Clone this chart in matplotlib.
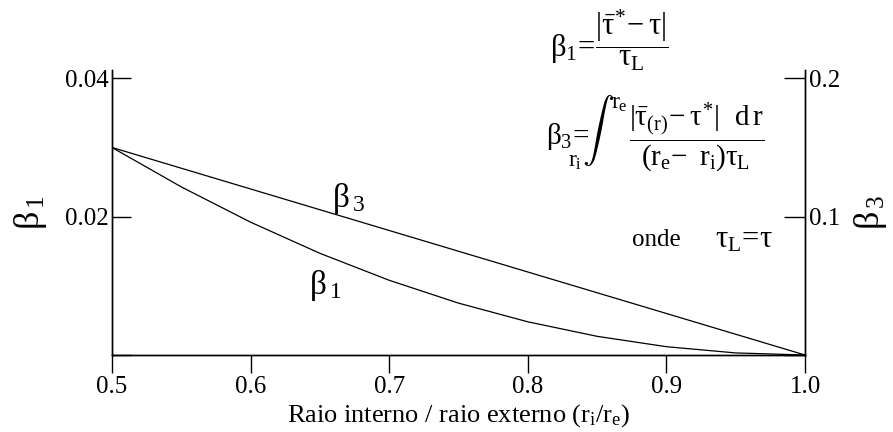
import matplotlib
matplotlib.use("Agg")
import matplotlib.pyplot as plt

plt.rcParams["font.family"] = ["Liberation Serif", "DejaVu Serif"]
plt.rcParams["mathtext.fontset"] = "custom"
plt.rcParams["mathtext.rm"] = "Liberation Serif"
plt.rcParams["mathtext.it"] = "Liberation Serif"
plt.rcParams["mathtext.bf"] = "Liberation Serif:bold"
plt.rcParams["mathtext.fallback"] = "stix"

# Radius ratio r_i / r_e
ratio = [0.50, 0.55, 0.60, 0.65, 0.70, 0.75, 0.80, 0.85, 0.90, 0.95, 1.00]
# Local deviation beta_1 (left axis)
beta1 = [0.0300, 0.0243, 0.0192, 0.0147, 0.0108, 0.0075, 0.0048, 0.0027, 0.0012, 0.0003, 0.0]
# Integrated deviation beta_3 (right axis)
beta3 = [0.150, 0.135, 0.120, 0.105, 0.090, 0.075, 0.060, 0.045, 0.030, 0.015, 0.0]

x_ticks = [0.5, 0.6, 0.7, 0.8, 0.9, 1.0]
x_tick_labels = ["0.5", "0.6", "0.7", "0.8", "0.9", "1.0"]
left_ticks = [0.0, 0.02, 0.04]
left_tick_labels = ["", "0.02", "0.04"]
right_ticks = [0.0, 0.1, 0.2]
right_tick_labels = ["", "0.1", "0.2"]

fig = plt.figure(figsize=(8.93, 4.32), dpi=100)
ax = fig.add_axes([112 / 893, 1 - 355 / 432, (805 - 112) / 893, (355 - 70) / 432])
ax2 = ax.twinx()

ax.plot(ratio, beta1, color="black", lw=0.9)
ax2.plot(ratio, beta3, color="black", lw=0.9)

ax.set_xlim(0.5, 1.0)
ax.set_ylim(0, 0.0412)
ax2.set_ylim(0, 0.206)

for a in (ax, ax2):
    a.spines["top"].set_visible(False)
    for s in ("left", "right", "bottom"):
        a.spines[s].set_linewidth(1.0)

ax.set_xticks(x_ticks)
ax.set_xticklabels(x_tick_labels)
ax.set_yticks(left_ticks)
ax.set_yticklabels(left_tick_labels)
ax2.set_yticks(right_ticks)
ax2.set_yticklabels(right_tick_labels)

ax.tick_params(axis="x", direction="out", length=13, width=1.0, labelsize=18, pad=2)
ax.tick_params(axis="y", direction="in", length=14, width=1.0, labelsize=18, pad=2)
ax2.tick_params(axis="y", direction="in", length=15, width=1.0, labelsize=18, pad=3)

ax.set_xlabel(r"Raio interno / raio externo (r$_\mathrm{i}$/r$_\mathrm{e}$)", fontsize=19, labelpad=3)
ax.set_ylabel(r"$\beta_{\,1}$", fontsize=26, rotation=90, labelpad=12)
ax2.set_ylabel(r"$\beta_{\,3}$", fontsize=26, rotation=90, labelpad=8)

# Curve labels
ax.text(0.659, 0.0226, r"$\beta_{\,3}$", fontsize=24, ha="left", va="center")
ax.text(0.642, 0.0101, r"$\beta_{\,1}$", fontsize=24, ha="left", va="center")

# Definition of beta_1
fig.text(550 / 893, 1 - 40 / 432,
         r"$\beta_1\!=\!\dfrac{|\bar{\tau}^{*}\!-\tau|}{\tau_L}$",
         fontsize=22, ha="left", va="center")

# Definition of beta_3, built from pieces so the integral sign is full size
fig.text(546 / 893, 1 - 137 / 432, r"$\beta_3\!=$", fontsize=21, ha="left", va="center")
fig.text(582 / 893, 1 - 131 / 432, r"$\int$", fontsize=23, ha="left", va="center",
         math_fontfamily="cm")
fig.text(568 / 893, 1 - 162 / 432, r"$r_i$", fontsize=17, ha="left", va="center")
fig.text(611 / 893, 1 - 104 / 432, r"$r_e$", fontsize=17, ha="left", va="center")
fig.text(629 / 893, 1 - 137 / 432,
         r"$\dfrac{|\bar{\tau}_{(r)}\!-\tau^{*}|\ \ \mathrm{d\,r}}{(r_e\!-\ r_i)\tau_L}$",
         fontsize=21, ha="left", va="center")

fig.text(632 / 893, 1 - 240 / 432, "onde", fontsize=18, ha="left", va="center")
fig.text(715 / 893, 1 - 240 / 432, r"$\tau_L\!=\!\tau$", fontsize=22, ha="left", va="center")

fig.savefig("out.png", dpi=100)
